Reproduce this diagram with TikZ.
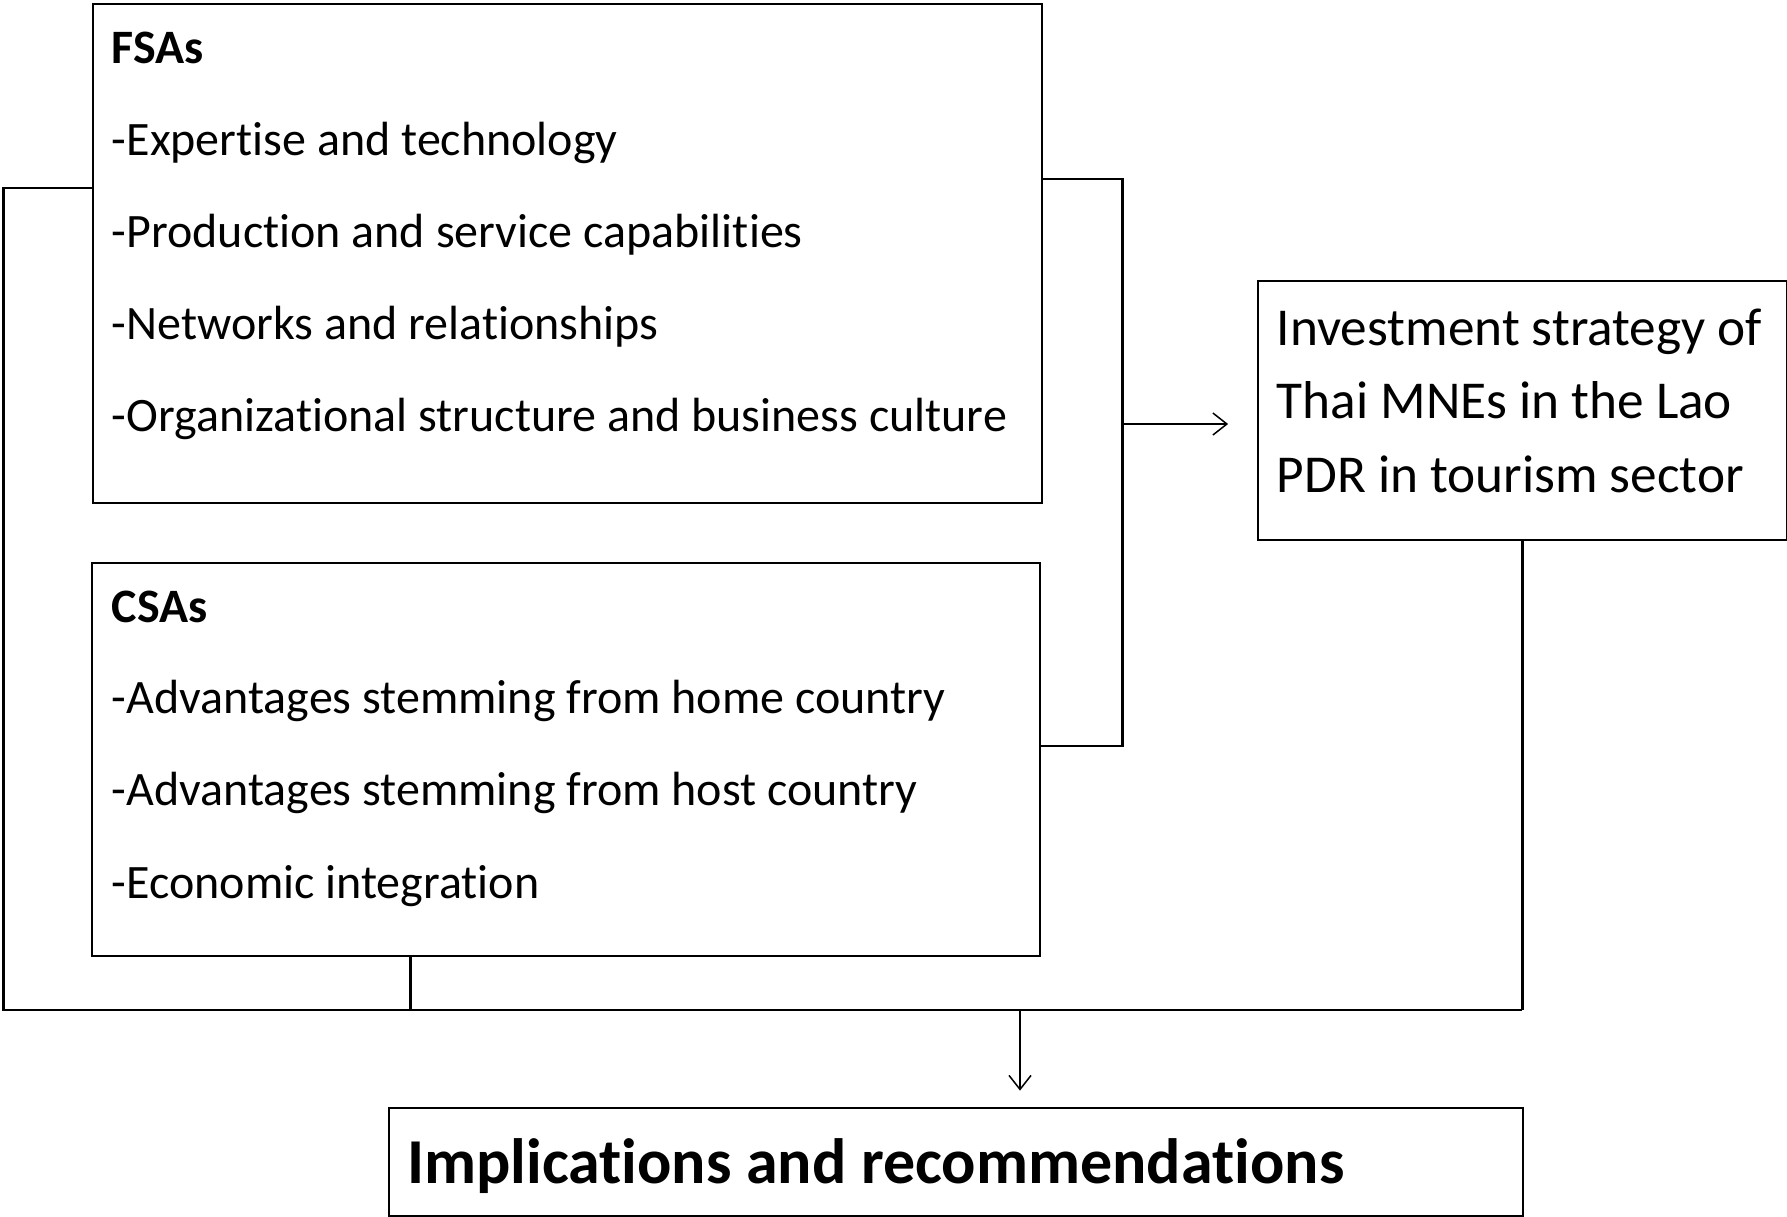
\documentclass[tikz,border=0pt]{standalone}
\usepackage{fontspec}
\setmainfont{Carlito}
\newcommand{\tii}{t\kern0pt i}
\usetikzlibrary{arrows.meta}
\tikzset{
  box/.style={draw=black, line width=2pt, rectangle, inner sep=0pt, anchor=north west},
  bodytext/.style={anchor=base west, inner sep=0pt, font=\fontsize{48}{57}\selectfont},
  headtext/.style={bodytext, font=\fontsize{48}{57}\selectfont\bfseries},
  invtext/.style={anchor=base west, inner sep=0pt, font=\fontsize{53.3}{64}\selectfont},
  impltext/.style={anchor=base west, inner sep=0pt, font=\fontsize{64}{76}\selectfont\bfseries},
  conn/.style={draw=black, line width=2.5pt},
  arr/.style={draw=black, line width=1.5pt, -{Straight Barb[length=14pt,width=22pt,line width=1.5pt]}}
}
\begin{document}
\begin{tikzpicture}[x=1pt,y=-1pt]
\useasboundingbox (0,0) rectangle (1787,1216);
% boxes
\node[box, minimum width=948.2pt, minimum height=498.1pt] (fsa) at (92.3,3.4) {};
\node[box, minimum width=948.2pt, minimum height=393.2pt] (csa) at (91.2,561.9) {};
\node[box, minimum width=528.8pt, minimum height=258.7pt] (inv) at (1257.1,280.4) {};
\node[box, minimum width=1134pt, minimum height=108.3pt] (impl) at (387.5,1106.6) {};
% FSA texts
\node[headtext] (fsah) at (111.7,63) {FSAs};
\node[bodytext] (fsa1) at (111.7,155) {-Exper\tii se and technology};
\node[bodytext] (fsa2) at (111.7,247) {-Produc\tii on and service capabili\tii es};
\node[bodytext] (fsa3) at (111.7,339) {-Networks and rela\tii onships};
\node[bodytext] (fsa4) at (111.7,431) {-Organiza\tii onal structure and business culture};
% CSA texts
\node[headtext] (csah) at (111.7,622) {CSAs};
\node[bodytext] (csa1) at (111.7,713) {-Advantages stemming from home country};
\node[bodytext] (csa2) at (111.7,805) {-Advantages stemming from host country};
\node[bodytext] (csa3) at (111.7,898) {-Economic integra\tii on};
% Investment texts
\node[invtext] (inv1) at (1276.5,345) {Investment strategy of};
\node[invtext] (inv2) at (1276.5,418.5) {Thai MNEs in the Lao};
\node[invtext] (inv3) at (1276.5,492) {PDR in tourism sector};
% Implications text
\node[impltext] (impl1) at (407,1183) {Implica\tii ons and recommenda\tii ons};
% coordinates
\coordinate (lefttop) at (3.4,188.1);
\coordinate (leftbot) at (3.4,1009.8);
\coordinate (botright) at (1521.5,1009.8);
\coordinate (brtop) at (1122.6,178.9);
\coordinate (brbot) at (1122.6,746);
\coordinate (brmid) at (1122.6,424);
\coordinate (csastub) at (410.3,955.1);
\coordinate (downsrc) at (1020,1009.8);
% left loop
\draw[conn] (fsa.west |- lefttop) -- (lefttop) -- (leftbot) -- (botright);
\draw[conn] (csastub) -- (csastub |- leftbot);
\draw[conn] (inv.south) -- (inv.south |- botright);
% right bracket
\draw[conn] (fsa.east |- brtop) -- (brtop) -- (brbot) -- (csa.east |- brbot);
% arrows
\draw[arr, shorten >=29pt] (brmid) -- (inv.west |- brmid);
\draw[arr, shorten >=16pt] (downsrc) -- (downsrc |- impl.north);
\end{tikzpicture}
\end{document}
